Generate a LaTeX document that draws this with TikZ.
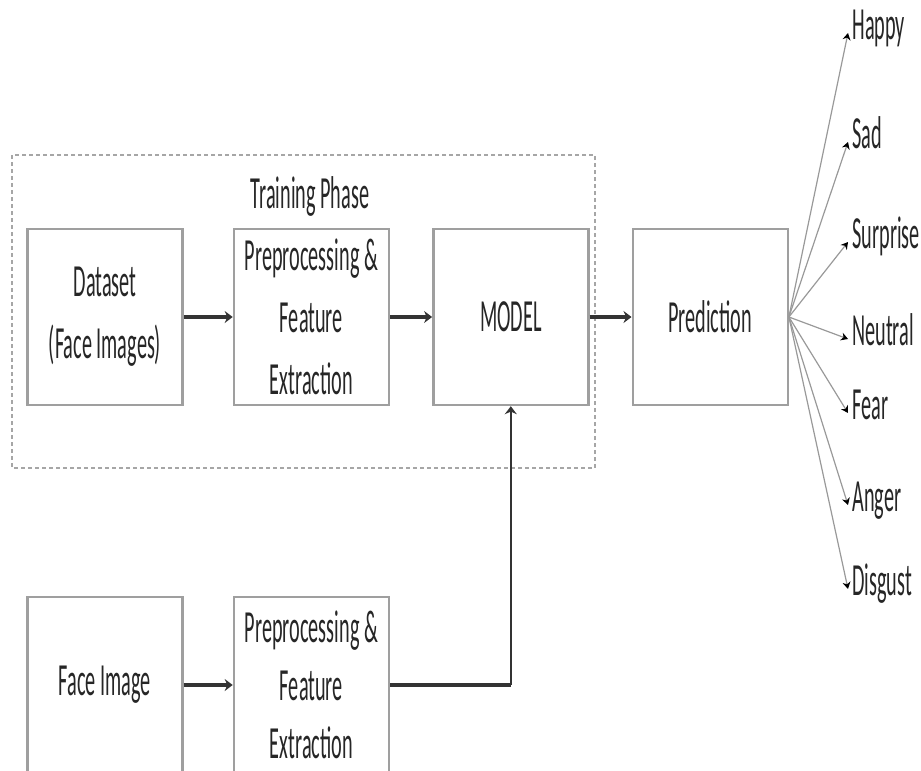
\documentclass[tikz,border=0pt]{standalone}
\usepackage{fontspec}
\setmainfont{Carlito}[FakeStretch=0.44]
\usetikzlibrary{arrows.meta, positioning}

\begin{document}
\begin{tikzpicture}[
    x=0.5pt, y=-0.5pt,
    >={Stealth[length=4pt,width=6pt]},
    font=\fontsize{23}{31}\selectfont,
    box/.style={rectangle, draw=gray!75, line width=1.2pt, minimum width=77.5pt, minimum height=88pt, inner sep=0pt, align=center, text=black!85},
    flow/.style={->, line width=2pt, black!80},
    fan/.style={-{Stealth[length=3.5pt,width=4pt,black]}, gray!80, line width=0.6pt},
    emotion/.style={anchor=west, inner sep=2pt, text height=0.65em, text depth=0pt, text=black!85},
    phase/.style={draw=gray!70, dash pattern=on 2pt off 1.5pt, line width=0.7pt}
]
    \useasboundingbox (0,0) rectangle (921,771);
    % --- 1. Training phase frame ---
    \draw[phase] (12,155) rectangle (595,468);
    \node (phaselabel) [text=black!85] at (310,196) {Training Phase};
    % --- 2. Top row (training) ---
    \node (dataset) [box] at (105,317) {Dataset\\(Face Images)};
    \node (prep1) [box, right=24.5pt of dataset] {Preprocessing \&\\Feature\\Extraction};
    \node (model) [box, right=21pt of prep1] {MODEL};
    \node (predict) [box, right=21pt of model] {Prediction};
    % --- 3. Bottom row (testing) ---
    \node (face) [box] at (105,685) {Face Image};
    \node (prep2) [box, right=24.5pt of face, font=\fontsize{23}{29}\selectfont] {Preprocessing \&\\Feature\\Extraction};
    % --- 4. Emotion classes ---
    \foreach \name/\ypos in {Happy/33, Sad/142, Surprise/242, Neutral/339, Fear/413, Anger/505, Disgust/589}{
        \node (\name) [emotion] at (848,\ypos) {\name};
        \draw[fan] (predict.east) -- (\name.west);
    }
    % --- 5. Flow arrows ---
    \draw[flow] (dataset) -- (prep1);
    \draw[flow] (prep1) -- (model);
    \draw[flow] (model) -- (predict);
    \draw[flow] (face) -- (prep2);
    \coordinate (turn) at (prep2.east -| model.south);
    \draw[line width=2pt, black!80] (prep2.east) -- (turn);
    \draw[->, line width=1pt, black!80] (turn) -- (model.south);
\end{tikzpicture}
\end{document}
